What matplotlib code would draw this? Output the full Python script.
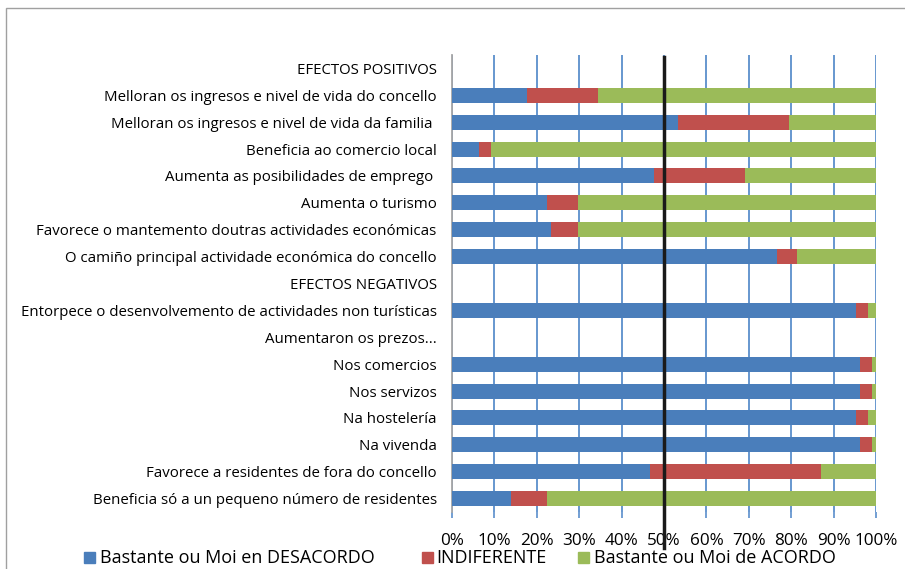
import matplotlib
matplotlib.use("Agg")
import matplotlib.pyplot as plt
from matplotlib.patches import Rectangle
import numpy as np

plt.rcParams['font.family'] = ['Open Sans', 'DejaVu Sans']

categories = [
    "EFECTOS POSITIVOS",
    "Melloran os ingresos e nivel de vida do concello",
    "Melloran os ingresos e nivel de vida da familia ",
    "Beneficia ao comercio local",
    "Aumenta as posibilidades de emprego ",
    "Aumenta o turismo",
    "Favorece o mantemento doutras actividades económicas",
    "O camiño principal actividade económica do concello",
    "EFECTOS NEGATIVOS",
    "Entorpece o desenvolvemento de actividades non turísticas",
    "Aumentaron os prezos...",
    "Nos comercios",
    "Nos servizos",
    "Na hostelería",
    "Na vivenda",
    "Favorece a residentes de fora do concello",
    "Beneficia só a un pequeno número de residentes",
]
desacordo = [0, 17.8, 53.3, 6.4, 47.7, 22.5, 23.3, 76.7, 0, 95.4, 0, 96.3, 96.3, 95.4, 96.3, 46.8, 14.0]
indiferente = [0, 16.7, 26.2, 2.8, 21.4, 7.3, 6.5, 4.7, 0, 2.7, 0, 2.8, 2.8, 2.7, 2.8, 40.2, 8.4]
acordo = [0, 65.5, 20.5, 90.8, 30.9, 70.2, 70.2, 18.6, 0, 1.9, 0, 0.9, 0.9, 1.9, 0.9, 13.0, 77.6]
series_names = ["Bastante ou Moi en DESACORDO", "INDIFERENTE", "Bastante ou Moi de ACORDO"]
tick_values = [0, 10, 20, 30, 40, 50, 60, 70, 80, 90, 100]
tick_labels = ["0%", "10%", "20%", "30%", "40%", "50%", "60%", "70%", "80%", "90%", "100%"]

colors = ["#4A7EBB", "#C0504D", "#9BBB59"]

W, H = 905, 569
fig = plt.figure(figsize=(W / 100, H / 100), dpi=100)
ax = fig.add_axes([452 / W, 1 - 512 / H, (876 - 452) / W, (512 - 55) / H])

# chart border
fig.patches.append(Rectangle((6 / W, -0.1), 1.2, 1 - 8 / H + 0.1, transform=fig.transFigure,
                             fill=False, edgecolor="#A0A0A0", linewidth=1.0))

y = np.arange(len(categories))
d = np.array(desacordo)
i = np.array(indiferente)
a = np.array(acordo)
h = 0.56
ax.barh(y, d, height=h, color=colors[0], zorder=3)
ax.barh(y, i, left=d, height=h, color=colors[1], zorder=3)
ax.barh(y, a, left=d + i, height=h, color=colors[2], zorder=3)

ax.set_ylim(len(categories) - 0.5, -0.5)
ax.set_xlim(0, 100)
ax.set_yticks(y)
ax.set_yticklabels(categories, fontsize=10.8, color="#000000")
ax.tick_params(axis='y', length=0, pad=11)
ax.set_xticks(tick_values)
ax.set_xticklabels(tick_labels, fontsize=12.3, color="#000000")
ax.tick_params(axis='x', length=4, width=1.2, color="#5B8FCC", pad=11)

ax.grid(axis='x', color="#5B8FCC", linewidth=1.3, zorder=1)
for s in ["top", "right", "bottom"]:
    ax.spines[s].set_visible(False)
ax.spines["left"].set_color("#A6A6A6")
ax.spines["left"].set_linewidth(1.3)

ax.axvline(50, ymin=-0.079, ymax=0.995, color="#1A1A1A", linewidth=2.5, clip_on=False, zorder=5)

# legend (manual)
sq_x = [84, 422, 578]
txt_x = [100, 436, 594]
for sx, tx, name, c in zip(sq_x, txt_x, series_names, colors):
    fig.patches.append(Rectangle((sx / W, 1 - 563 / H), 11 / W, 11 / H,
                                 transform=fig.transFigure, color=c))
    fig.text(tx / W, 1 - 558 / H, name, fontsize=13, va='center', ha='left', color="#000000")

fig.savefig("out.png", dpi=100)
